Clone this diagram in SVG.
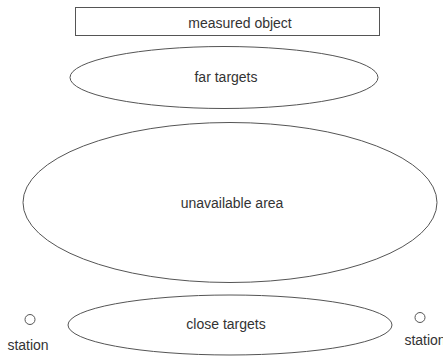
<svg xmlns="http://www.w3.org/2000/svg" width="443" height="357" viewBox="0 0 443 357">
<style>
.s{fill:#fff;stroke:#555;stroke-width:1}
.t{font-family:"Liberation Sans",Arial,sans-serif;font-size:14px;fill:#333;text-anchor:middle}
</style>
<rect width="443" height="357" fill="#fff"/>
<g id="connectors"></g>
<g id="measured-object"><rect class="s" x="75.5" y="7.5" width="304" height="28"/><text class="t" x="240" y="28">measured object</text></g>
<g id="far-targets"><ellipse class="s" cx="224" cy="77.5" rx="154" ry="31"/><text class="t" x="226" y="82">far targets</text></g>
<g id="unavailable-area"><ellipse class="s" cx="230" cy="202.5" rx="207" ry="80"/><text class="t" x="232" y="208">unavailable area</text></g>
<g id="close-targets"><ellipse class="s" cx="230" cy="325" rx="162" ry="30"/><text class="t" x="226" y="329">close targets</text></g>
<g id="station-left"><circle class="s" cx="30" cy="319.5" r="5"/><text class="t" x="28" y="350">station</text></g>
<g id="station-right"><circle class="s" cx="420" cy="317.5" r="5"/><text class="t" x="425" y="345">station</text></g>
</svg>
